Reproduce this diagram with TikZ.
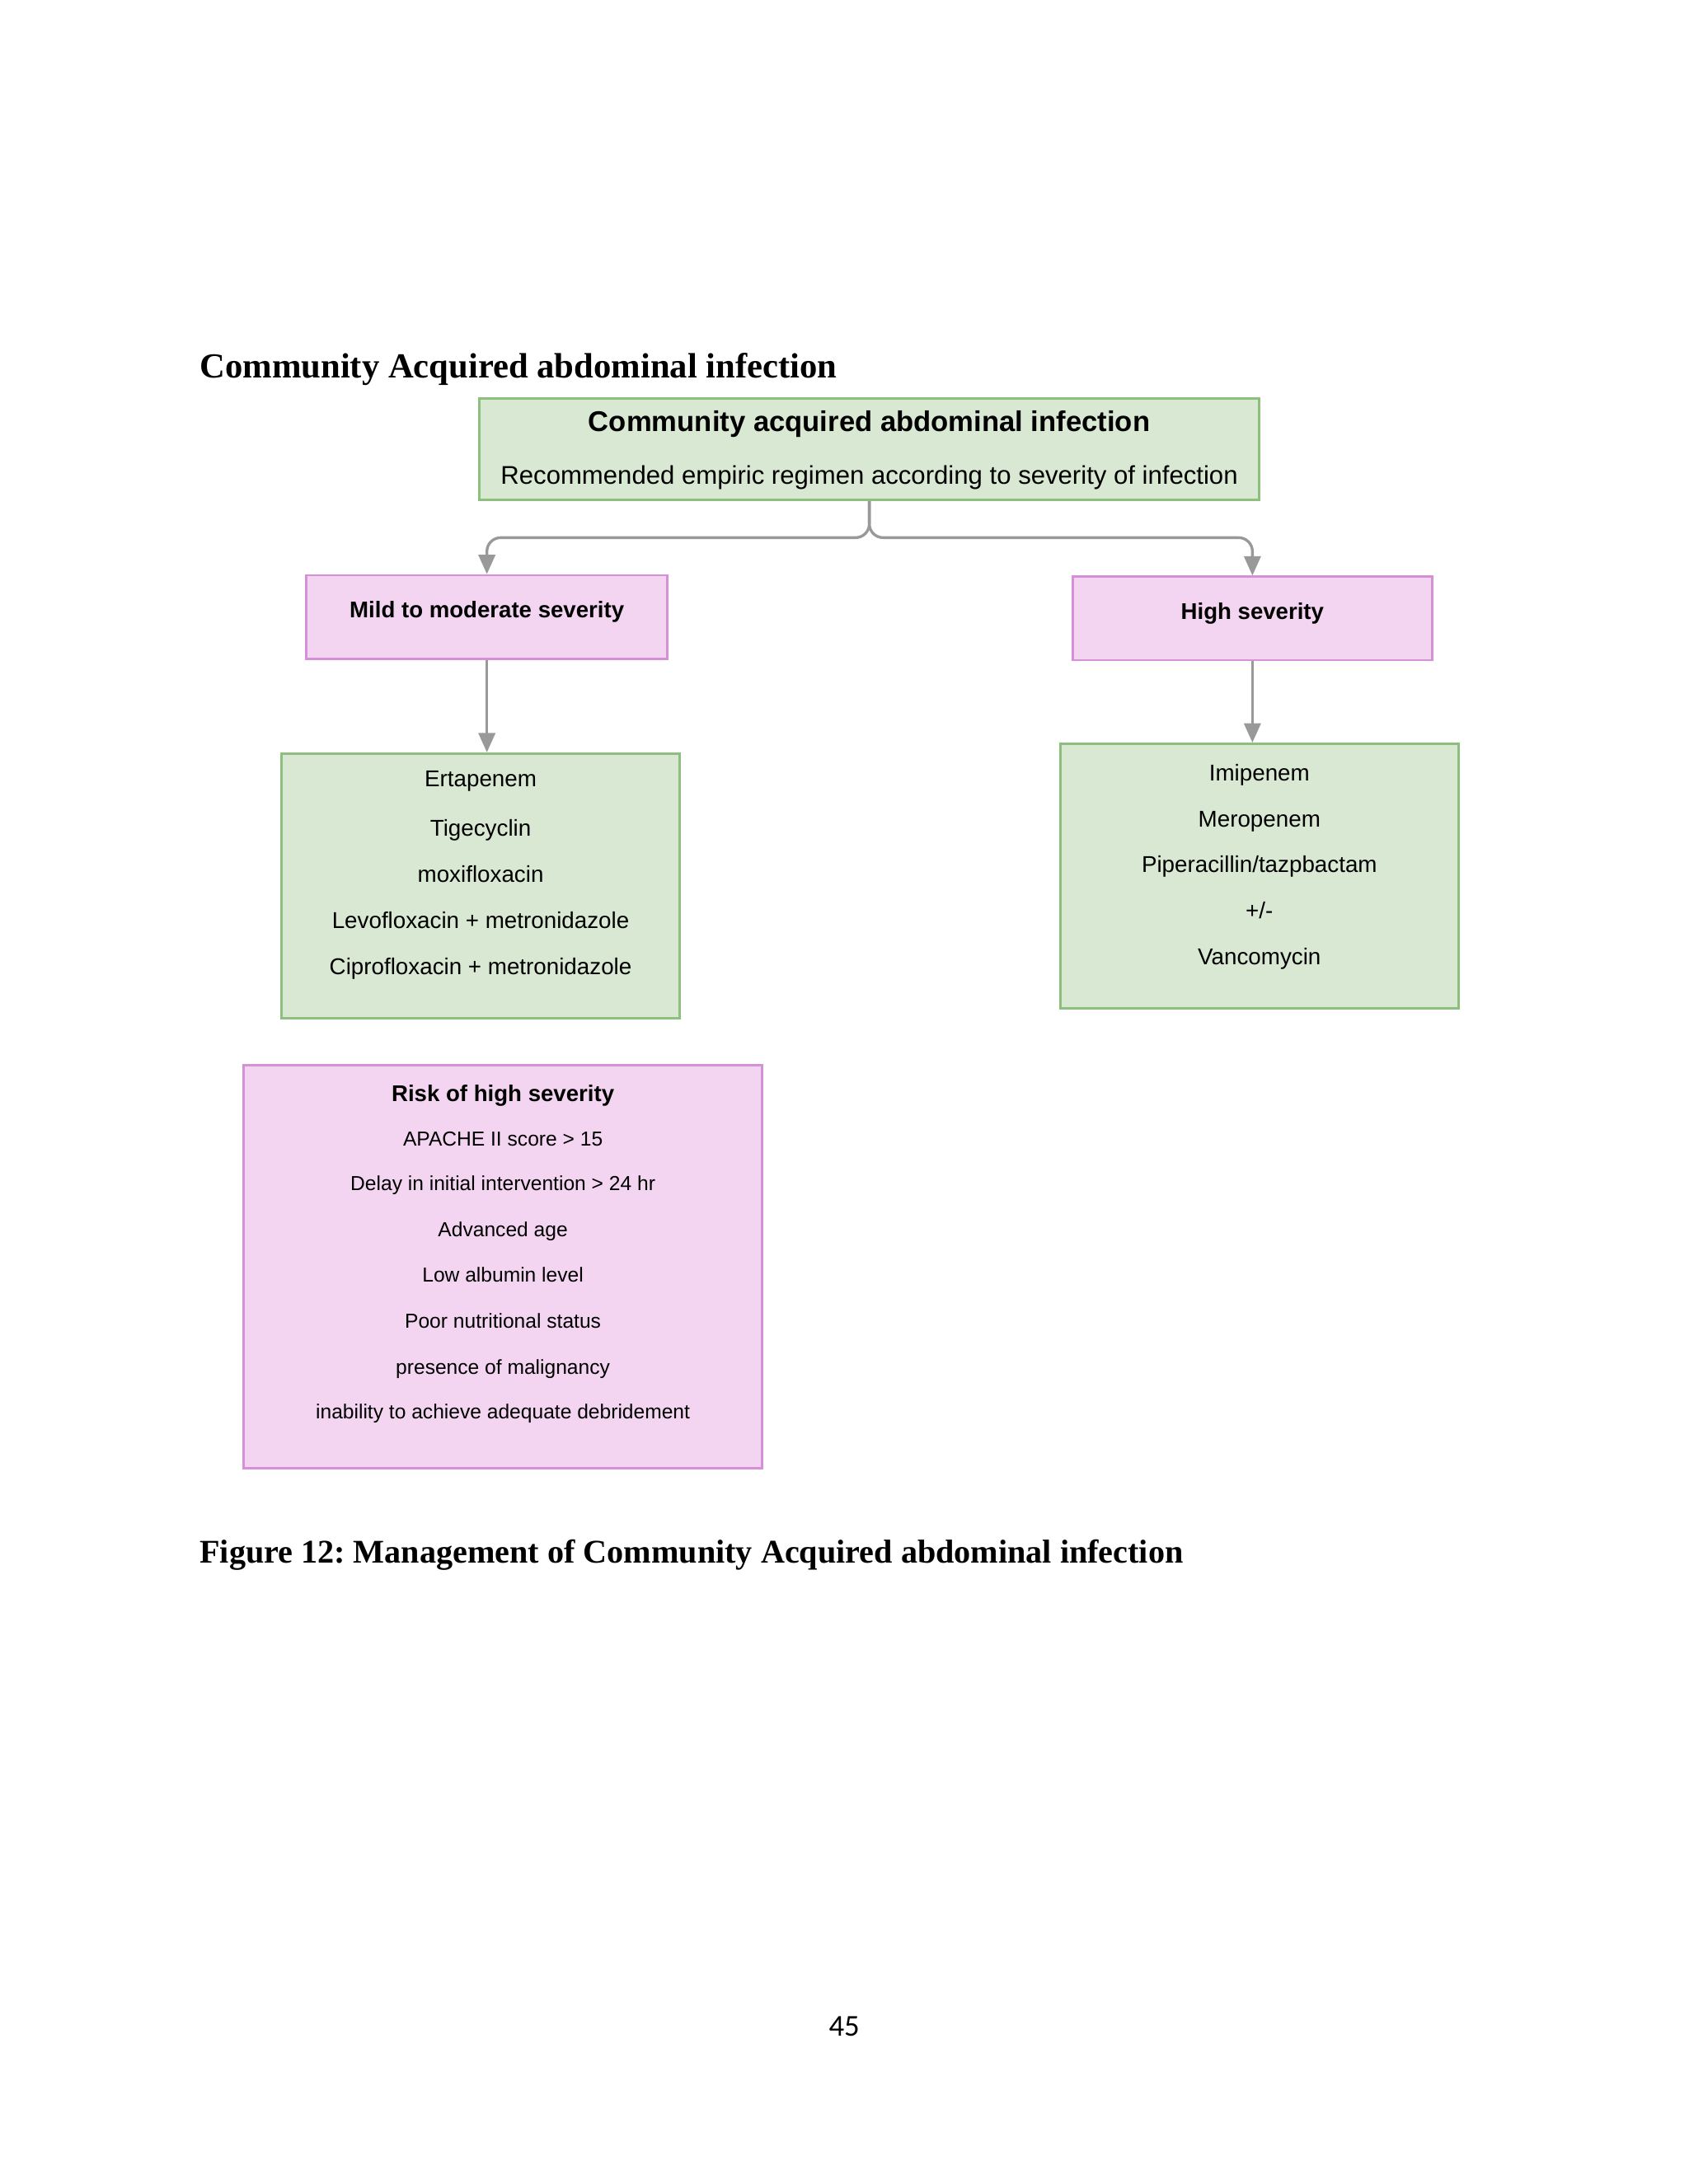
\documentclass[tikz,border=0pt]{standalone}
\usepackage{fontspec}
\setmainfont{Liberation Sans}
\newfontfamily\headfont{Liberation Serif}
\newfontfamily\pagefont{Carlito}
\usetikzlibrary{arrows.meta}
\frenchspacing
\definecolor{greenfill}{HTML}{D9E8D2}
\definecolor{greenline}{HTML}{8DC07C}
\definecolor{pinkfill}{HTML}{F4D5F1}
\definecolor{pinkline}{HTML}{D690D8}
\definecolor{linkgray}{HTML}{999999}
\tikzset{
  greenbox/.style={draw=greenline, fill=greenfill, line width=0.8pt, inner sep=0pt},
  pinkbox/.style={draw=pinkline, fill=pinkfill, line width=0.8pt, inner sep=0pt},
  txt/.style={inner sep=0pt, yshift=-0.8pt, text height=0.7em, text depth=0.2em, font=\fontsize{8.3}{9}\selectfont},
  small/.style={txt, font=\fontsize{7.35}{8}\selectfont},
  link/.style={draw=linkgray, line width=1pt, rounded corners=5pt,
    -{Triangle[width=6pt,length=7pt]}},
}
\begin{document}
\begin{tikzpicture}[x=0.505pt, y=-0.505pt]
      \useasboundingbox (0,0) rectangle (1212,1568);
      % heading and caption
      \node[anchor=base west, inner sep=0pt, font=\headfont\bfseries\fontsize{12.75}{14}\selectfont]
        (head) at (143,271) {Community Acquired abdominal infection};
      \node[anchor=base west, inner sep=0pt, font=\headfont\bfseries\fontsize{12}{14}\selectfont]
        (caption) at (143,1122) {Figure 12: Management of Community Acquired abdominal infection};
      \node[anchor=base, inner sep=0pt, font=\pagefont\fontsize{11}{13}\selectfont]
        (page) at (606,1462) {45};
      % boxes
      \node[greenbox, minimum width=282.8pt, minimum height=36.9pt] (top) at (624,322.5) {};
      \node[pinkbox, minimum width=130.8pt, minimum height=30.3pt] (mild) at (349.5,443) {};
      \node[pinkbox, minimum width=130.3pt, minimum height=30.3pt] (high) at (899,444) {};
      \node[greenbox, minimum width=144.4pt, minimum height=96pt] (mildrx) at (345,636) {};
      \node[greenbox, minimum width=144.4pt, minimum height=96pt] (highrx) at (904,629) {};
      \node[pinkbox, minimum width=187.9pt, minimum height=146pt] (risk) at (361,909.5) {};
      % texts
      \node[txt, font=\bfseries\fontsize{10.35}{12}\selectfont] (toptitle) at (624,303) {Community acquired abdominal infection};
      \node[txt, font=\fontsize{9.3}{10}\selectfont] (topsub) at (624,341) {Recommended empiric regimen according to severity of infection};
      \node[txt, font=\bfseries\fontsize{8.25}{9}\selectfont] (mildtxt) at (349.5,437) {Mild to moderate severity};
      \node[txt, font=\bfseries\fontsize{8.25}{9}\selectfont] (hightxt) at (899,438) {High severity};
      \foreach \t/\y [count=\i] in {Ertapenem/558, Tigecyclin/594, moxifloxacin/627,
          Levofloxacin + metronidazole/660, Ciprofloxacin + metronidazole/693}
        \node[txt] (mildrx\i) at (345,\y) {\t};
      \foreach \t/\y [count=\i] in {Imipenem/554, Meropenem/587, {Piperacillin/tazpbactam}/620,
          {+/-}/653, Vancomycin/686}
        \node[txt] (highrx\i) at (904,\y) {\t};
      \node[txt, font=\bfseries\fontsize{8.25}{9}\selectfont] (risktitle) at (361,784) {Risk of high severity};
      \foreach \t/\y [count=\i] in {APACHE II score > 15/816, Delay in initial intervention > 24 hr/848,
          Advanced age/881, Low albumin level/914, Poor nutritional status/947,
          presence of malignancy/980, inability to achieve adequate debridement/1012}
        \node[small] (risk\i) at (361,\y) {\t};
      % connectors
      \coordinate (split) at (624,386);
      \draw[link] (top.south) -- (split) -| (mild.north);
      \draw[link] (top.south) -- (split) -| (high.north);
      \draw[link] (mild.south) -- (mild.south |- mildrx.north);
      \draw[link] (high.south) -- (high.south |- highrx.north);
    \end{tikzpicture}
\end{document}
